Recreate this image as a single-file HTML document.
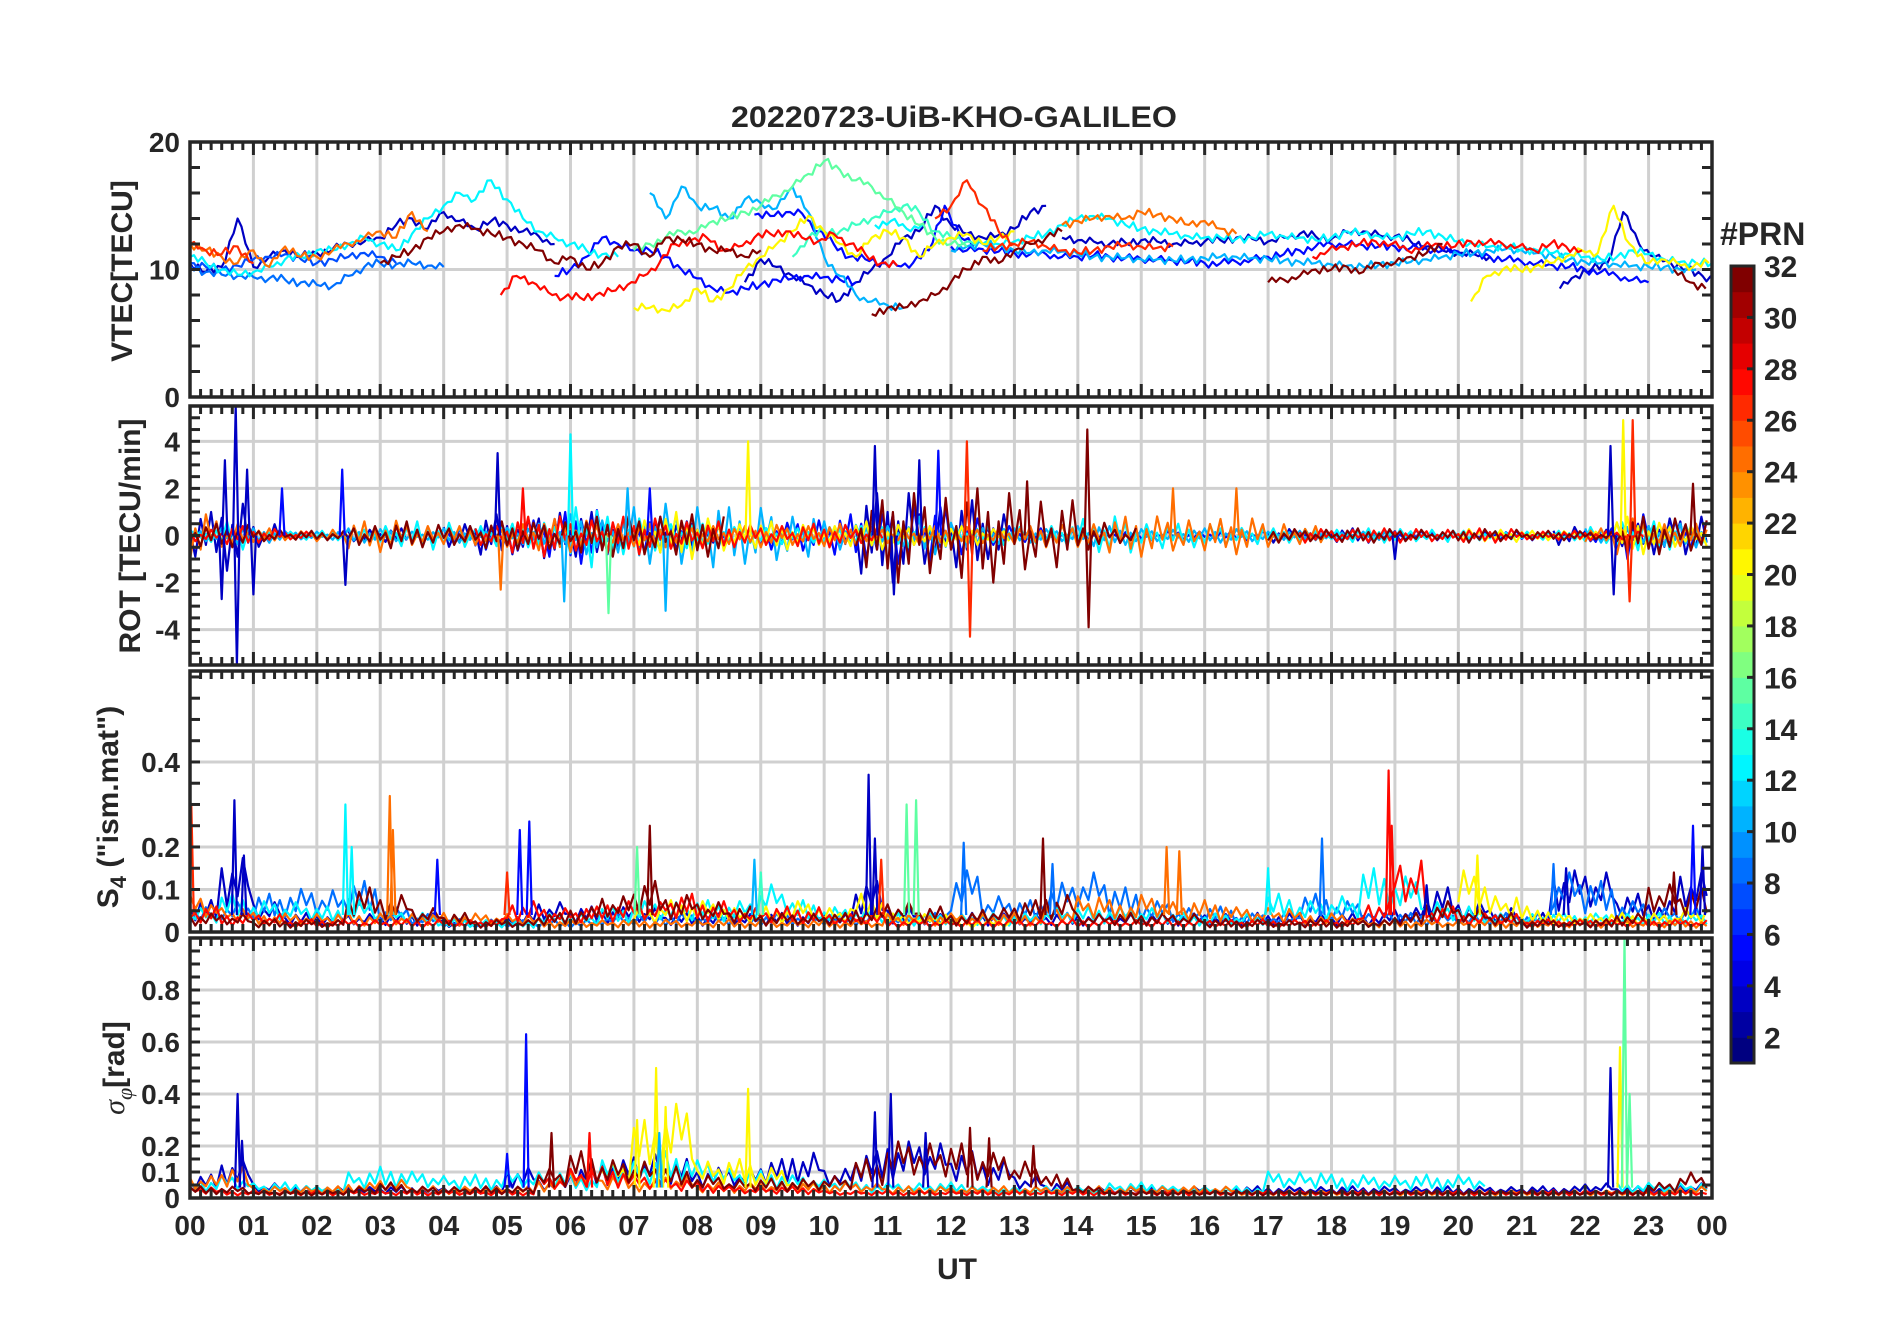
<!DOCTYPE html>
<html><head><meta charset="utf-8"><title>20220723-UiB-KHO-GALILEO</title>
<style>html,body{margin:0;padding:0;background:#fff}svg{display:block}
text{font-family:"Liberation Sans",Arial,sans-serif;font-weight:bold;fill:#262626}</style></head>
<body>
<svg id="fig" xmlns="http://www.w3.org/2000/svg" width="1902" height="1330" viewBox="0 0 1902 1330">
<rect x="0" y="0" width="1902" height="1330" fill="#fff"/>
<text x="954" y="127" font-size="30" text-anchor="middle" textLength="446" lengthAdjust="spacingAndGlyphs">20220723-UiB-KHO-GALILEO</text>
<text x="957" y="1279" font-size="30" text-anchor="middle">UT</text>
<text transform="translate(132,271) rotate(-90)" font-size="30" text-anchor="middle">VTEC[TECU]</text>
<text transform="translate(140,536) rotate(-90)" font-size="30" text-anchor="middle">ROT [TECU/min]</text>
<text transform="translate(118,807) rotate(-90)" font-size="30" text-anchor="middle">S<tspan font-size="22" dy="8">4</tspan><tspan dy="-8"> ("ism.mat")</tspan></text>
<text transform="translate(124,1068) rotate(-90)" font-size="30" text-anchor="middle"><tspan font-family="Liberation Serif" font-style="italic" font-weight="normal">σ</tspan><tspan font-size="22" dy="8" font-family="Liberation Serif" font-style="italic" font-weight="normal">φ</tspan><tspan dy="-8">[rad]</tspan></text>
<text x="1720" y="245" font-size="32">#PRN</text>
<g id="layers"></g>
</svg>
<script>
// ---------- data ----------
const hourLabels = ['00','01','02','03','04','05','06','07','08','09','10','11','12','13','14','15','16','17','18','19','20','21','22','23','00'];
const vtecTicks = [0,10,20];
const rotTicks = [-4,-2,0,2,4];
const s4Ticks = [0,0.1,0.2,0.4];
const sigTicks = [0,0.1,0.2,0.4,0.6,0.8];
const cbTicks = [2,4,6,8,10,12,14,16,18,20,22,24,26,28,30,32];

// VTEC segments: PRN, start hour, values every 0.25 h
const vtecPrn = [3,3,3,3,5,5,5,8,7,10,10,12,12,12,15,14,20,20,24,24,26,26,26,27,27,31,31,31,31];
const vtecStart = [0,8.75,13.75,21.6,5.75,8.9,12,0,0,7.25,12,0,10.8,12.5,7,9.5,7,20.2,0,13.75,11.75,0,12.5,4.9,17.7,3,10.75,17,23.4];
const vtecA = [10.5,9.8,10.2,14,10.2,11,11.5,11,11.3,11.6,12,12.2,12.5,13.5,14,13.2,14.5,13.8,13.2,13.8,13.5,13,12.6,12];
const vtecB = [9,10.8,10.2,9.5,8.8,8,7.6,9,10,11,12.5,13,15,13.5,12.8,12.5,12.7,13.2,14.5,15];
const vtecC = [12.5,12.3,12.2,12,12.1,12.3,12.2,12,12.1,12.2,12.3,12.5,12.4,12.2,12.5,12.8,12.6,12.4,12.9,13,12.7,12.6,12.2,11.8,11.5,11.3,11.2,11];
const vtecD = [8.5,9.5,10,10.5,14.5,12,11,10.5,10,9.5,9.2,8.8,8.5,8.3,8.5];
const vtecE = [9.5,10,11,12.5,12,11.5,11.5,11,10,9.3,8.5,8.2,8.5,8.8,9.2,9.3,9.5,9.4,9.2,9.0];
const vtecF = [14.3,14.2,14.5,14.4,13,12,11,10.8,10.5,10.3,10.5,11.5,15,12.5,12];
const vtecG = [11.8,11.5,11.6,11.4,11.3,11.2,11.2,11,11,11.1,11,10.9,10.8,10.8,10.7,10.6,10.5,10.5,10.6,10.8,11,11.2,11.5,11.8,12,12,11.9,11.8,11.8,11.7,11.6,11.5,11.4,11.2,11,10.8,10.6,10.5,10.3,10.2,10,9.8,9.5,9.2,9];
const vtecH = [10.3,9.8,9.6,9.5,9.4,9.3,9.2,9.0,8.8,8.7,9.5,10.2,10.5,10.4,10.5,10.3,10.2];
const vtecI = [10.5,10.2,10,10.3,10.8,11,11.2,10.8,10.5,10.8,11,11.3,11,10.5];
const vtecJ = [16,14,16.5,15,14.8,14,15.5,15.2,14.8,16.5,14.5,11,9.5,8,7.5,7.2,7.0];
const vtecK = [11.5,11.8,12,11.8,11.5,11.3,11.5,11.4,11.2,11,11,10.9,10.8,10.8,10.7,10.8,10.9,11,11,10.9,10.8,10.7,10.6,10.5,10.4,10.3,10.2,10.4,10.5,10.6,10.8,11,11.2,11.3,11.5,11.6,11.5,11.3,11,10.8,10.6,10.5,10.4,10.3,10.2,10.2,10,10];
const vtecL = [11,10.5,10,9.6,9.8,10.2,10.8,11,11.5,11.5,12,12.5,12,11.5,12.8,14,15,16,15.5,17,15.5,14,13,12.5,12,11.5,11.2,11];
const vtecM = [13.5,13.8,13.2,13.5];
const vtecN = [12,12,12.2,12.5,12.8,13.5,14,14.2,14,13.5,13.2,13,12.8,12.6,12.5,12.5,12.4,12.5,12.8,12.6,12.5,12.3,12.5,13,12.8,12.6,12.5,12.8,13,12.6,12.2,12,11.8,11.8,11.6,11.5,11.3,11.2,11,10.8,11,11.5,11.2,10.8,10.6,10.5,10.5,10.3];
const vtecO = [11.5,12,12.5,13,13,13.8,14,14.5,15,15.8,16.5,17.5,18.5,17.8,17,16.5,15.5,14.5,13.5,12.5,12,11.8];
const vtecP = [11,12.5,13,13,13.5,14,14.5,15,14.5,13,12.5,12.2,12];
const vtecQ = [7,7,6.8,7.2,8.5,7.5,8.5,10,11,12,13,14.2,13,12,11,12.5,13,12.5,11,12,12.5,12.8,12,12.5,13];
const vtecR = [7.5,9.5,10,10,10.2,10.5,11,11.5,11.3,15,12,10.5,10.8,10.5,10.2,10.5];
const vtecS = [12,11.5,11,10.5,11.5,10.2,11.8,11,11,11.5,12,12.5,13,12.5,14.5,13];
const vtecT = [13.5,13.8,14,14.2,14,14.5,14.3,14,13.5,13.8,13.2,12.8];
const vtecU = [14,15,17,15,13,12];
const vtecV = [12,11.5,11.2,11.8,10.5];
const vtecW = [11.5,11.8,12,12.2,11.8,11.5,11.3,11.5,11.8,11.9,11.8,11.7,11.8];
const vtecX = [8,9.5,9,8.2,7.8,7.8,8,8.3,8.8,9.5,10.5,12,12.3,12.5,11.5,11.8,12.5,12.8,13,12.5,12.2,12.8,12,11.2,10.5,10.3];
const vtecY = [11,11.5,11.8,12,12.2,12,11.5,11.8,12,11.8,12.2,12.1,12,11.8,11.5,12,11.8,11.5];
const vtecZ = [10.5,11,11.5,12.5,13,13.5,13.2,12.8,12.5,12,11.5,10.5,11,10,10.5,11.8,12,11,12.5,12.3,12,11.5,11.5,11,11.5];
const vtecAA = [6.5,7,7,7.5,8,9,10,11,10.5,11.5,12,12.5,13];
const vtecAB = [9,9.2,9.5,10,10,10.2,9.8,10.5,10.5,11,11.3,12];
const vtecAC = [10,9,8.5];

// ROT envelopes (TECU/min) every 0.5 h, 0 = no data
const rotPrn = [3,5,10,12,20,24,27,31];
const rotNavy = [1.0,1.5,0.6,0,0,0.3,0.3,0,0.6,0.9,0.8,1.2,1.0,0.8,0.6,0.6,0.5,0,0,0,0,1.8,2.0,1.5,1.5,1.0,0,0,0,0,0,0,0,0,0.3,0.3,0.3,0.3,0.3,0,0,0,0,0.4,0.3,0.5,0.8,1.0];
const rotBlue = [0,0,0,0,0,0,0,0,0.4,0.6,0.8,1.0,1.2,1.0,0.8,0.6,0,0,0.6,0.8,0.9,1.0,1.5,1.2,0.8,0.5,0.3,0.2,0.2,0.2,0.2,0.2,0.2,0.2,0.2,0.2,0.2,0.2,0.2,0.2,0.2,0.2,0.2,0.2,0.3,1.0,0.8,0.6];
const rotLightBlue = [0.3,0.4,0.3,0.2,0.2,0.3,0.3,0.2,0.3,0.3,0.4,0.5,1.0,0.8,1.2,1.5,1.5,1.2,1.3,1.0,0.6,0.5,0.5,0.8,0.6,0.4,0.3,0.3,0.5,0.4,0.3,0.3,0.3,0.3,0.2,0.2,0.2,0.2,0,0,0,0,0,0,0.3,0.6,0.5,0.5];
const rotCyan = [0.3,0.6,0.2,0.2,0.2,0.4,0.5,0.6,0.6,0.5,0.5,0.6,1.5,0.8,0.8,0.6,0.5,0.4,0.4,0.3,0.4,0.5,0.5,0.4,0.4,0.4,0.4,0.5,0.7,0.9,0.6,0.5,0.5,0.4,0.3,0.3,0.3,0.3,0.3,0.3,0.2,0.2,0.2,0.2,0.4,0.7,0.6,0.5];
const rotYellow = [0,0,0,0,0,0,0,0,0,0,0,0,0,0,0.8,1.0,0.8,0.6,0.6,0.5,0.5,0.6,0.5,0.5,0.4,0.3,0,0,0,0,0,0,0,0,0,0,0,0,0,0,0.3,0.3,0.2,0.2,0.2,0.8,0.6,0.5];
const rotOrange = [1.0,0.6,0.3,0.2,0.3,0.6,0.7,0.5,0.4,0.4,0.6,0.7,0.7,0.6,0.5,0.5,0.5,0.4,0.5,0.5,0.5,0.4,0.4,0.4,0.4,0.4,0.4,0.5,0.6,0.8,0.9,0.8,0.7,0.8,0.6,0.4,0,0,0,0,0,0,0,0,0.3,0.8,0.6,0.5];
const rotRed = [0.3,0.4,0.3,0.2,0,0,0,0,0,0.5,0.8,0.9,0.8,0.8,0.8,0.7,0.6,0.5,0.5,0.5,0.5,0.4,0,0,0,0,0,0,0,0,0,0,0,0,0,0.3,0.3,0.3,0.3,0.3,0.3,0.3,0.2,0.2,0.2,0.2,0,0];
const rotDarkRed = [0.5,0.5,0.3,0.2,0.2,0.5,0.6,0.5,0.5,0.6,0.6,0.7,0.8,0.9,1.0,0.9,0.9,0,0,0,0,1.5,2.0,2.0,2.0,2.0,1.8,1.5,0.6,0.4,0,0,0,0,0.3,0.3,0.3,0.3,0.3,0.2,0.3,0.3,0.2,0.2,0.2,0.8,0.8,0.8];
const rotSpikeT = [0.55,0.72,0.74,0.9,0.5,1.0,1.45,2.4,2.45,4.85,4.9,5.25,6.0,5.9,6.6,6.9,7.5,8.8,7.25,10.8,11.1,11.5,11.8,12.25,12.3,13.2,14.15,14.17,15.5,16.5,19.0,22.4,22.45,22.6,22.75,22.7,23.7];
const rotSpikeV = [3.2,5.5,-5.5,2.8,-2.7,-2.5,2.0,2.8,-2.1,3.5,-2.3,2.0,4.3,-2.8,-3.3,2.0,-3.2,4.0,2.0,3.8,-2.5,3.2,3.6,4.0,-4.3,2.3,4.5,-3.9,2.0,2.0,-1.0,3.8,-2.5,4.9,4.9,-2.8,2.2];
const rotSpikePrn = [3,3,3,3,3,3,5,5,3,3,24,27,12,10,15,10,10,20,5,3,3,3,5,26,26,31,31,31,24,24,3,3,3,20,26,26,31];

// S4 levels every 0.5 h
const s4Prn = [3,8,12,20,24,27,31];
const s4Navy = [0.05,0.12,0.05,0.03,0.03,0.03,0.03,0.03,0.02,0.02,0.03,0.05,0.04,0.04,0.04,0.03,0.03,0.03,0.03,0.03,0.03,0.08,0.04,0.03,0.03,0.03,0.03,0.03,0.03,0.03,0.03,0.03,0.03,0.03,0.03,0.03,0.03,0.03,0.04,0.07,0.05,0.04,0.03,0.1,0.1,0.06,0.05,0.1];
const s4Azure = [0.04,0.05,0.06,0.07,0.07,0.08,0.04,0.03,0.02,0.02,0.02,0.02,0.02,0.03,0.03,0.03,0.03,0.03,0.03,0.03,0.03,0.03,0.03,0.03,0.1,0.06,0.05,0.08,0.1,0.07,0.05,0.04,0.04,0.03,0.03,0.06,0.05,0.04,0.03,0.03,0.03,0.03,0.03,0.1,0.08,0.05,0.04,0.04];
const s4Cyan = [0.04,0.06,0.05,0.05,0.04,0.05,0.04,0.03,0.02,0.02,0.02,0.03,0.03,0.04,0.05,0.05,0.05,0.05,0.08,0.05,0.04,0.04,0.03,0.03,0.03,0.03,0.03,0.04,0.04,0.04,0.04,0.03,0.03,0.03,0.06,0.05,0.06,0.1,0.09,0.05,0.04,0.03,0.03,0.03,0.03,0.03,0.03,0.03];
const s4Yellow = [0,0,0,0,0,0,0,0,0,0,0,0,0,0,0.04,0.05,0.05,0.04,0.04,0.05,0.04,0.06,0.03,0.03,0.02,0.02,0,0,0,0,0,0,0,0,0,0,0,0,0,0,0.1,0.06,0.04,0.03,0.03,0.03,0.03,0.04];
const s4Orange = [0.06,0.04,0.03,0.03,0.03,0.03,0.03,0.03,0.03,0.03,0.03,0.02,0.02,0.02,0.02,0.02,0.02,0.02,0.02,0.02,0.02,0.02,0.03,0.03,0.03,0.03,0.03,0.04,0.06,0.05,0.06,0.05,0.05,0.04,0.04,0.03,0.03,0.02,0.02,0.02,0.02,0.02,0.02,0.02,0.02,0.02,0.02,0.02];
const s4Red = [0.04,0.03,0.03,0.02,0.02,0.02,0.02,0.02,0.02,0.02,0.05,0.04,0.04,0.05,0.05,0.06,0.05,0.04,0.04,0.04,0.03,0.03,0.02,0.02,0.02,0.02,0.02,0.02,0.02,0.02,0.02,0.02,0.02,0.02,0.02,0.02,0.02,0.05,0.12,0.04,0.03,0.03,0.02,0.02,0.02,0.02,0.02,0.02];
const s4DarkRed = [0.03,0.03,0.02,0.02,0.02,0.07,0.06,0.04,0.03,0.02,0.02,0.03,0.04,0.06,0.08,0.06,0.05,0.04,0.03,0.03,0.03,0.04,0.05,0.04,0.03,0.04,0.05,0.06,0.03,0.03,0.03,0.03,0.02,0.02,0.02,0.02,0.02,0.02,0.03,0.05,0.04,0.03,0.02,0.02,0.02,0.03,0.08,0.07];
const s4SpikeT = [0.02,0.7,0.85,2.45,2.55,3.15,3.2,3.9,5.0,5.2,5.35,7.05,7.25,8.9,9.0,10.7,10.8,10.9,11.3,11.45,12.2,13.45,13.6,15.4,15.6,17.0,17.85,18.9,18.95,19.5,20.3,21.5,21.7,23.7,23.85,23.4];
const s4SpikeV = [0.3,0.31,0.18,0.3,0.2,0.32,0.24,0.17,0.14,0.24,0.26,0.2,0.25,0.17,0.14,0.37,0.22,0.17,0.3,0.31,0.21,0.22,0.16,0.2,0.19,0.15,0.22,0.38,0.25,0.11,0.18,0.16,0.15,0.25,0.2,0.14];
const s4SpikePrn = [26,3,3,12,12,24,24,5,26,5,5,15,31,10,14,3,3,26,15,15,8,31,8,24,24,12,8,27,27,3,20,8,3,5,3,31];

// sigma-phi levels every 0.5 h
const sigPrn = [3,12,20,24,27,31];
const sigNavy = [0.06,0.1,0.04,0.03,0.03,0.03,0.03,0.03,0.03,0.03,0.08,0.05,0.08,0.1,0.12,0.1,0.08,0.08,0.1,0.12,0.08,0.12,0.15,0.15,0.12,0.1,0.06,0.04,0.03,0.03,0.03,0.03,0.03,0.03,0.03,0.03,0.03,0.03,0.03,0.03,0.03,0.03,0.03,0.03,0.04,0.03,0.03,0.04];
const sigCyan = [0.05,0.06,0.04,0.04,0.03,0.07,0.08,0.07,0.06,0.06,0.07,0.07,0.06,0.1,0.1,0.12,0.1,0.08,0.07,0.06,0.05,0.04,0.04,0.04,0.04,0.03,0.03,0.03,0.03,0.04,0.04,0.03,0.03,0.03,0.07,0.07,0.06,0.06,0.06,0.06,0.06,0,0,0,0,0.04,0.04,0.04];
const sigYellow = [0,0,0,0,0,0,0,0,0,0,0,0,0,0.1,0.2,0.25,0.1,0.1,0.08,0.05,0,0,0,0,0,0,0,0,0,0,0,0,0,0,0,0,0,0,0,0,0,0,0,0,0,0,0,0];
const sigOrange = [0.06,0.08,0.03,0.03,0.03,0.04,0.05,0.03,0.03,0.03,0.03,0.05,0.08,0.06,0.05,0.06,0.04,0.04,0.04,0.04,0.04,0.04,0.03,0.03,0.03,0.03,0.03,0.03,0.03,0.03,0.03,0.03,0.03,0.02,0.02,0.02,0.02,0.02,0.02,0.02,0.02,0.02,0.02,0.02,0.02,0.02,0.02,0.03];
const sigRed = [0.03,0.02,0.02,0.02,0.02,0.02,0.02,0.02,0.02,0.02,0.02,0.06,0.08,0.08,0.06,0.05,0.04,0.03,0.03,0.03,0.02,0.02,0.02,0.02,0.02,0.02,0.02,0.02,0.02,0.02,0.02,0.02,0.02,0.02,0.02,0.02,0.02,0.02,0.02,0.02,0.02,0.02,0.02,0.02,0.02,0.02,0.02,0.02];
const sigDarkRed = [0.03,0.03,0.02,0.02,0.02,0.03,0.04,0.03,0.03,0.03,0.03,0.08,0.12,0.1,0.1,0.08,0.06,0.05,0.05,0.05,0.06,0.1,0.15,0.15,0.14,0.12,0.1,0.06,0.03,0.02,0.02,0.02,0.02,0.02,0.02,0.02,0.02,0.02,0.02,0.02,0.02,0.02,0.02,0.02,0.02,0.02,0.04,0.07];
const sigSpikeT = [0.75,0.82,5.0,5.3,5.7,6.3,7.05,7.35,7.5,7.4,8.8,10.8,11.05,11.6,12.3,12.6,13.3,22.4,22.55,22.62,22.7];
const sigSpikeV = [0.4,0.22,0.17,0.63,0.25,0.25,0.3,0.5,0.35,0.25,0.42,0.33,0.4,0.25,0.27,0.23,0.2,0.5,0.58,1.0,0.4];
const sigSpikePrn = [3,3,5,5,31,27,20,20,20,10,20,3,3,3,31,31,31,3,20,15,15];

const jitter = [0.2,-0.9,0.7,-0.4,1.0,-0.7,0.5,-1.0,0.3,-0.6,0.9,-0.2,0.6,-0.8,0.1,-0.5,0.8,-0.3];

// ---------- layout ----------
const NS = 'http://www.w3.org/2000/svg';
const X0 = 190, X1 = 1712;
const panels = {
  vtec: {top:142, bottom:397, min:0, max:20, minor:2},
  rot: {top:406, bottom:665, min:-5.5, max:5.5, minor:0.5},
  s4: {top:671, bottom:932, min:0, max:0.614, minor:0.05},
  sig: {top:938, bottom:1198, min:0, max:1.0, minor:0.05}
};
function xs(h){ return X0 + h*(X1-X0)/24; }
function ys(p,v){ return p.bottom - (v-p.min)/(p.max-p.min)*(p.bottom-p.top); }
function jet(v){
  const c = x => Math.round(255*Math.max(0,Math.min(1,x)));
  return `rgb(${c(1.5-Math.abs(4*v-3))},${c(1.5-Math.abs(4*v-2))},${c(1.5-Math.abs(4*v-1))})`;
}
function prnColor(p){ const b = Math.max(0,Math.min(30,Math.floor(p-1))); return jet(b/30); }
function mk(tag, attrs, parent){
  const e = document.createElementNS(NS, tag);
  for (const k in attrs) e.setAttribute(k, attrs[k]);
  parent.appendChild(e); return e;
}
const root = document.getElementById('layers');
const defs = mk('defs', {}, root);

function panelGroups(key, p, yTicks){
  const cp = mk('clipPath', {id:'clip-'+key}, defs);
  mk('rect', {x:X0, y:p.top, width:X1-X0, height:p.bottom-p.top}, cp);
  const g = mk('g', {}, root);
  
  
  const grid = mk('g', {stroke:'#d0d0d0','stroke-width':3}, g);
  
  
  for (let h=1; h<24; h++) mk('line', {x1:xs(h),x2:xs(h),y1:p.top,y2:p.bottom}, grid);
  yTicks.forEach(v => { if (v>p.min && v<p.max) mk('line', {x1:X0,x2:X1,y1:ys(p,v),y2:ys(p,v)}, grid); });
  const data = mk('g', {'clip-path':'url(#clip-'+key+')', fill:'none','stroke-width':2.2,'stroke-linejoin':'round'}, g);
  
  
  return {g, data};
}
function drawAxes(key, p, yTicks, fmt, g){
  const ax = mk('g', {stroke:'#262626','stroke-width':3,fill:'none'}, g);
  
  
  for (let m=0; m<=144; m++){
    const x = xs(m/6), L = (m%6===0)?13:8;
    mk('line', {x1:x,x2:x,y1:p.top,y2:p.top+L}, ax);
    mk('line', {x1:x,x2:x,y1:p.bottom,y2:p.bottom-L}, ax);
  }
  const n = Math.round((p.max-p.min)/p.minor);
  for (let i=0;i<=n;i++){
    const v = Math.ceil(p.min/p.minor)*p.minor + i*p.minor;
    if (v>p.max+1e-9) break;
    const y = ys(p,v);
    mk('line', {x1:X0,x2:X0+10,y1:y,y2:y}, ax);
    mk('line', {x1:X1,x2:X1-10,y1:y,y2:y}, ax);
  }
  mk('rect', {x:X0,y:p.top,width:X1-X0,height:p.bottom-p.top,'stroke-width':3.5}, ax);
  yTicks.forEach(v => {
    const t = mk('text', {x:180, y:ys(p,v)+10, 'font-size':28, 'text-anchor':'end'}, g);
    
    
    t.textContent = fmt(v);
  });
}
function poly(parent, pts, color, name){
  if (pts.length<2) return;
  const e = mk('polyline', {points: pts.map(q=>q[0].toFixed(1)+','+q[1].toFixed(1)).join(' '), stroke: color}, parent);
  
  
}
function bandSeries(parent, p, arr, prn, mode, off, name){
  let pts = [];
  for (let i=0;i<arr.length;i++){
    const a = arr[i];
    if (!a){ poly(parent, pts, prnColor(prn), name); pts=[]; continue; }
    for (let k=0;k<6;k++){
      const j = jitter[(i*6+k+off)%jitter.length];
      const v = mode==='rot' ? a*j : a*(1+0.5*j);
      pts.push([xs(i*0.5+k/12), ys(p,v)]);
    }
  }
  poly(parent, pts, prnColor(prn), name);
}
function spikes(parent, p, T, V, P, base, name){
  T.forEach((t,i) => {
    poly(parent, [[xs(t-0.04),ys(p,base)],[xs(t),ys(p,V[i])],[xs(t+0.04),ys(p,base)]], prnColor(P[i]), name);
  });
}

// ---------- VTEC ----------
{
  const p = panels.vtec, pg = panelGroups('vtec', p, vtecTicks);
  const vals = [vtecA,vtecB,vtecC,vtecD,vtecE,vtecF,vtecG,vtecH,vtecI,vtecJ,vtecK,vtecL,vtecM,vtecN,vtecO,vtecP,vtecQ,vtecR,vtecS,vtecT,vtecU,vtecV,vtecW,vtecX,vtecY,vtecZ,vtecAA,vtecAB,vtecAC];
  const order = vals.map((_,i)=>i).sort((a,b)=>vtecPrn[a]-vtecPrn[b]);
  order.forEach((i,si) => {
    const v = vals[i], pts = [];
    for (let k=0;k<v.length;k++){
      pts.push([xs(vtecStart[i]+k*0.25), ys(p,v[k])]);
      if (k<v.length-1){
        for (let s=1;s<4;s++){
          const f = s/4, j = jitter[(k*3+s+si*5)%jitter.length];
          pts.push([xs(vtecStart[i]+(k+f)*0.25), ys(p, v[k]+(v[k+1]-v[k])*f + 0.35*j)]);
        }
      }
    }
    poly(pg.data, pts, prnColor(vtecPrn[i]), 'vtec-line-prn'+vtecPrn[i]);
  });
  drawAxes('vtec', p, vtecTicks, v=>String(v), pg.g);
}
// ---------- ROT ----------
{
  const p = panels.rot, pg = panelGroups('rot', p, rotTicks);
  const arrs = [rotNavy,rotBlue,rotLightBlue,rotCyan,rotYellow,rotOrange,rotRed,rotDarkRed];
  arrs.forEach((a,i)=> bandSeries(pg.data, p, a, rotPrn[i], 'rot', i*5, 'rot-line-prn'+rotPrn[i]));
  spikes(pg.data, p, rotSpikeT, rotSpikeV, rotSpikePrn, 0, 'rot-spike');
  drawAxes('rot', p, rotTicks, v=>String(v), pg.g);
}
// ---------- S4 ----------
{
  const p = panels.s4, pg = panelGroups('s4', p, s4Ticks);
  const arrs = [s4Navy,s4Azure,s4Cyan,s4Yellow,s4Orange,s4Red,s4DarkRed];
  arrs.forEach((a,i)=> bandSeries(pg.data, p, a, s4Prn[i], 'lvl', i*7, 's4-line-prn'+s4Prn[i]));
  spikes(pg.data, p, s4SpikeT, s4SpikeV, s4SpikePrn, 0.04, 's4-spike');
  drawAxes('s4', p, s4Ticks, v=>String(v), pg.g);
}
// ---------- sigma phi ----------
{
  const p = panels.sig, pg = panelGroups('sig', p, sigTicks);
  const arrs = [sigNavy,sigCyan,sigYellow,sigOrange,sigRed,sigDarkRed];
  arrs.forEach((a,i)=> bandSeries(pg.data, p, a, sigPrn[i], 'lvl', i*4, 'sigma-line-prn'+sigPrn[i]));
  spikes(pg.data, p, sigSpikeT, sigSpikeV, sigSpikePrn, 0.04, 'sigma-spike');
  drawAxes('sig', p, sigTicks, v=>String(v), pg.g);
}
// ---------- x tick labels ----------
hourLabels.forEach((lab,i) => {
  const t = mk('text', {x:xs(i), y:1235, 'font-size':28, 'text-anchor':'middle'}, root);
  
  
  t.textContent = lab;
});
// ---------- colorbar ----------
{
  const cb = mk('g', {}, root);
  
  
  const cx0=1731, cx1=1754, cy0=266, cy1=1063, vmin=1, vmax=32;
  const cy = v => cy1 - (v-vmin)/(vmax-vmin)*(cy1-cy0);
  for (let b=0;b<31;b++){
    const r = mk('rect', {x:cx0, y:cy(b+2), width:cx1-cx0, height:cy(b+1)-cy(b+2)+0.5, fill:jet(b/30)}, cb);
    
    
  }
  cbTicks.forEach(v => {
    mk('line', {x1:cx1-7, x2:cx1, y1:cy(v), y2:cy(v), stroke:'#262626','stroke-width':3}, cb);
    const t = mk('text', {x:1764, y:cy(v)+11, 'font-size':30}, cb);
    
    
    t.textContent = String(v);
  });
  mk('rect', {x:cx0, y:cy0, width:cx1-cx0, height:cy1-cy0, fill:'none', stroke:'#262626','stroke-width':3}, cb);
}
</script>
</body></html>
